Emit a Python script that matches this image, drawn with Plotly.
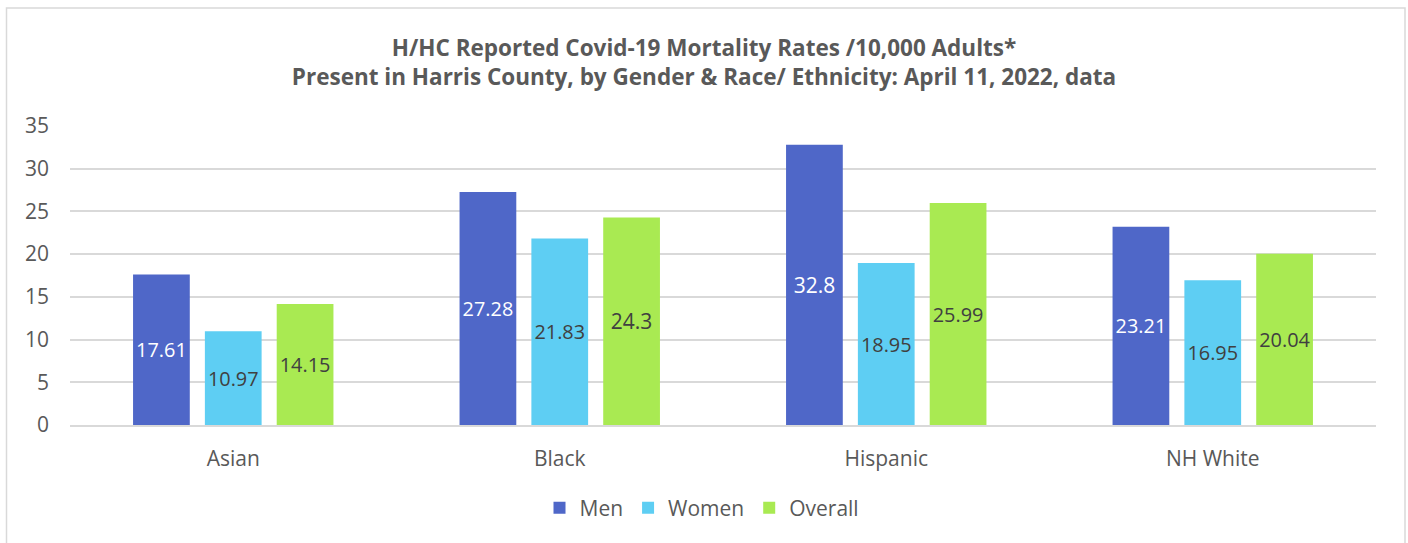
import plotly.graph_objects as go

categories = ["Asian", "Black", "Hispanic", "NH White"]
men = [17.61, 27.28, 32.8, 23.21]
women = [10.97, 21.83, 18.95, 16.95]
overall = [14.15, 24.3, 25.99, 20.04]
y_ticks = [0, 5, 10, 15, 20, 25, 30, 35]

W, H = 1408, 543
L, R, T, B = 70, 32, 126, 118
pw, ph = W - L - R, H - T - B

def px_to_paper_x(px):
    return (px - L) / pw

def px_to_paper_y(py):
    return (H - B - py) / ph

FONT = "Open Sans"
fig = go.Figure()
series = [
    ("Men", men, "#4F67C8", "#FFFFFF"),
    ("Women", women, "#5ECEF3", "#404040"),
    ("Overall", overall, "#A9EA52", "#404040"),
]
for name, vals, col, tcol in series:
    fig.add_trace(go.Bar(
        name=name, x=categories, y=vals,
        marker=dict(color=col, line=dict(width=0)),
        text=[f"{v:g}" for v in vals],
        textposition="inside", insidetextanchor="middle",
        textfont=dict(color=tcol, size=21, family=FONT),
        textangle=0,
    ))

fig.update_layout(
    width=W, height=H,
    margin=dict(l=L, r=R, t=T, b=B),
    paper_bgcolor="white", plot_bgcolor="white",
    barmode="group", bargap=0.34, bargroupgap=0.21,
    title=dict(
        text="<b>H/HC Reported Covid-19 Mortality Rates /10,000 Adults*<br>Present in Harris County, by Gender & Race/ Ethnicity: April 11, 2022, data</b>",
        x=0.5, xanchor="center", y=1 - 56 / H, yanchor="middle",
        font=dict(size=22.5, color="#595959", family=FONT),
        pad=dict(t=0),
    ),
    font=dict(family=FONT, color="#595959", size=21),
    yaxis=dict(range=[0, 35], tickvals=y_ticks, showgrid=True, gridcolor="#D9D9D9",
               gridwidth=1.5, zeroline=False, showline=False, ticks="",
               ticklabelstandoff=20, tickfont=dict(size=21, color="#595959")),
    xaxis=dict(showline=True, linecolor="#D9D9D9", linewidth=1.5, ticks="",
               ticklabelstandoff=14, tickfont=dict(size=21, color="#595959")),
    legend=dict(orientation="h", x=px_to_paper_x(702), xanchor="center",
                y=px_to_paper_y(508), yanchor="middle",
                font=dict(size=21, color="#595959", family=FONT),
                itemwidth=30, traceorder="normal"),
    showlegend=True,
)

fig.add_shape(type="rect", xref="paper", yref="paper",
              x0=px_to_paper_x(6.5), x1=px_to_paper_x(1405),
              y0=px_to_paper_y(560), y1=px_to_paper_y(8),
              line=dict(color="#D9D9D9", width=1.5), fillcolor="rgba(0,0,0,0)", layer="below")

fig.write_html("out.html", config={"displayModeBar": False},
               post_script="document.body.style.margin='0';document.body.style.overflow='hidden';")
